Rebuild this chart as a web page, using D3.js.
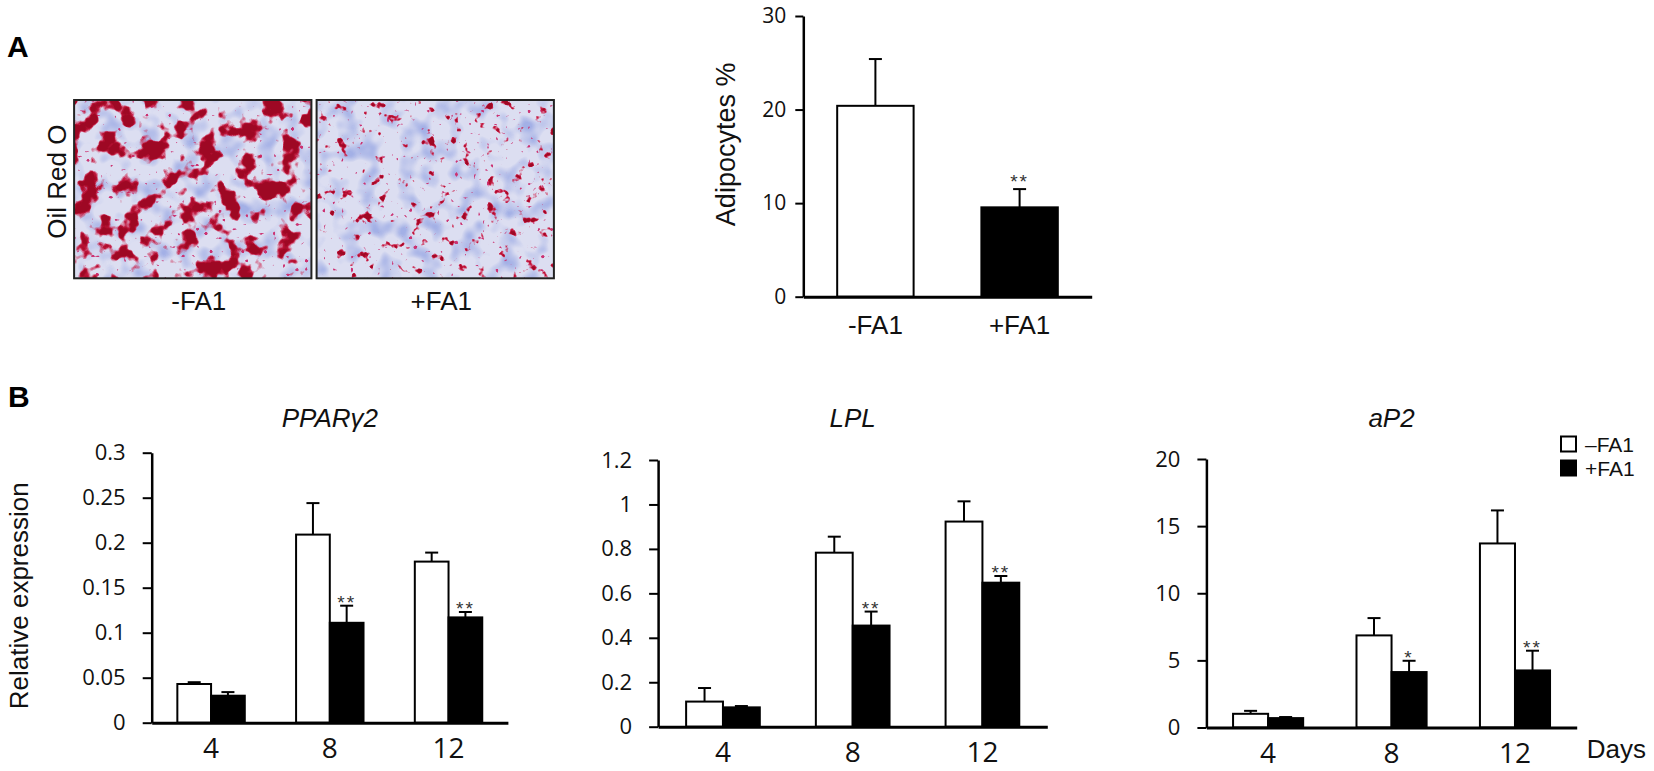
<!DOCTYPE html>
<html><head><meta charset="utf-8">
<script src="https://cdn.jsdelivr.net/npm/d3@7"></script>
<style>
body{margin:0;background:#fff;}
svg{display:block;}
</style></head><body>
<svg id="fig" width="1654" height="771"></svg>
<script>
// ---------------- DATA ----------------
const photoLabels = ["-FA1", "+FA1"];
const stainLabel = "Oil Red O";

const adipoCategories = ["-FA1", "+FA1"];
const adipoMean = [20.4, 9.55];
const adipoErr = [5.0, 1.95];
const adipoSig = ["", "**"];
const adipoTicks = [0, 10, 20, 30];
const adipoYLabel = "Adipocytes %";

const days = ["4", "8", "12"];
const genes = ["PPAR\u03b32", "LPL", "aP2"];
const seriesNames = ["\u2013FA1", "+FA1"];

const pparMinus = [0.043, 0.209, 0.179];
const pparMinusErr = [0.002, 0.035, 0.010];
const pparPlus = [0.030, 0.111, 0.117];
const pparPlusErr = [0.004, 0.019, 0.006];
const pparSig = ["", "**", "**"];
const pparTicks = [0, 0.05, 0.1, 0.15, 0.2, 0.25, 0.3];

const lplMinus = [0.113, 0.783, 0.923];
const lplMinusErr = [0.061, 0.072, 0.091];
const lplPlus = [0.087, 0.455, 0.648];
const lplPlusErr = [0.006, 0.063, 0.030];
const lplSig = ["", "**", "**"];
const lplTicks = [0, 0.2, 0.4, 0.6, 0.8, 1, 1.2];

const ap2Minus = [1.02, 6.86, 13.71];
const ap2MinusErr = [0.22, 1.29, 2.46];
const ap2Plus = [0.70, 4.13, 4.25];
const ap2PlusErr = [0.08, 0.84, 1.47];
const ap2Sig = ["", "*", "**"];
const ap2Ticks = [0, 5, 10, 15, 20];

const bYLabel = "Relative expression";
const daysLabel = "Days";

// ---------------- DRAWING ----------------
const svg = d3.select("#fig");
const ARIAL = "'Liberation Sans', Arial, sans-serif";
const NUM = "'Open Sans', 'Noto Sans', sans-serif";
const INK = "#111";

// panel letters
svg.append("text").attr("x", 7).attr("y", 56.7).attr("font-family", ARIAL)
  .attr("font-weight", "bold").attr("font-size", 30).text("A");
svg.append("text").attr("x", 8).attr("y", 406.7).attr("font-family", ARIAL)
  .attr("font-weight", "bold").attr("font-size", 30).text("B");

// ---- photos (stain texture via SVG filters) ----
const defs = svg.append("defs");
function makeStain(id, p) {
  const f = defs.append("filter").attr("id", id)
    .attr("x", 0).attr("y", 0).attr("width", 1).attr("height", 1)
    .attr("color-interpolation-filters", "sRGB");
  f.append("feFlood").attr("flood-color", "#dcdef1").attr("result", "bg");
  f.append("feTurbulence").attr("type", "fractalNoise").attr("baseFrequency", p.cellFreq)
    .attr("numOctaves", 2).attr("seed", p.seed1).attr("result", "n1");
  f.append("feColorMatrix").attr("in", "n1").attr("type", "matrix")
    .attr("values", "0 0 0 0 0.64  0 0 0 0 0.69  0 0 0 0 0.90  0 0 3 0 -1.4").attr("result", "cells");
  f.append("feComposite").attr("in", "cells").attr("in2", "bg").attr("operator", "over").attr("result", "base");
  f.append("feTurbulence").attr("type", "fractalNoise").attr("baseFrequency", p.blobFreq)
    .attr("numOctaves", 3).attr("seed", p.seed2).attr("result", "n2");
  f.append("feColorMatrix").attr("in", "n2").attr("type", "matrix")
    .attr("values", `0 0 0 0 0.80  0 0 0 0 0.10  0 0 0 0 0.26  ${p.redK} 0 0 0 ${p.redB}`).attr("result", "red");
  f.append("feColorMatrix").attr("in", "n2").attr("type", "matrix")
    .attr("values", `0 0 0 0 0.62  0 0 0 0 0.03  0 0 0 0 0.14  ${p.darkK} 0 0 0 ${p.darkB}`).attr("result", "dark");
  f.append("feTurbulence").attr("type", "fractalNoise").attr("baseFrequency", 0.22)
    .attr("numOctaves", 1).attr("seed", p.seed3).attr("result", "n3");
  f.append("feColorMatrix").attr("in", "n3").attr("type", "matrix")
    .attr("values", `0 0 0 0 0.80  0 0 0 0 0.20  0 0 0 0 0.45  0 ${p.spK} 0 0 ${p.spB}`).attr("result", "speck");
  const m = f.append("feMerge");
  ["base", "speck", "red", "dark"].forEach(k => m.append("feMergeNode").attr("in", k));
}
makeStain("stainDense", {cellFreq: 0.05, seed1: 4, blobFreq: 0.05, seed2: 9, redK: 12, redB: -6.3, darkK: 14, darkB: -8.1, seed3: 3, spK: 16, spB: -11.2});
makeStain("stainSparse", {cellFreq: 0.05, seed1: 6, blobFreq: 0.08, seed2: 21, redK: 14, redB: -9.2, darkK: 16, darkB: -11.4, seed3: 8, spK: 16, spB: -11.0});

const photoX = d3.scaleBand().domain(photoLabels).range([74.1, 553.9]).paddingInner(0.0214);
const photoTop = 100, photoBottom = 278.3;
const photos = svg.append("g");
photos.selectAll("rect.img").data(photoLabels).join("rect").attr("class", "img")
  .attr("x", d => photoX(d)).attr("y", photoTop)
  .attr("width", photoX.bandwidth()).attr("height", photoBottom - photoTop)
  .attr("fill", "#fff")
  .attr("filter", (d, i) => i === 0 ? "url(#stainDense)" : "url(#stainSparse)");
photos.selectAll("rect.frame").data(photoLabels).join("rect").attr("class", "frame")
  .attr("x", d => photoX(d)).attr("y", photoTop)
  .attr("width", photoX.bandwidth()).attr("height", photoBottom - photoTop)
  .attr("fill", "none").attr("stroke", "#222").attr("stroke-width", 2);
photos.selectAll("text.lab").data(photoLabels).join("text").attr("class", "lab")
  .attr("x", d => photoX(d) + photoX.bandwidth() / 2 + 6).attr("y", 310)
  .attr("text-anchor", "middle").attr("font-family", ARIAL).attr("font-size", 26).attr("fill", INK)
  .text(d => d);
svg.append("text").attr("transform", "translate(66,181.7) rotate(-90)")
  .attr("text-anchor", "middle").attr("font-family", ARIAL).attr("font-size", 26).attr("fill", INK)
  .text(stainLabel);

// ---- helpers ----
function styleYAxis(g, fontSize) {
  g.attr("font-family", NUM).attr("font-size", fontSize);
  g.select(".domain").attr("stroke", "#000").attr("stroke-width", 2.5);
  g.selectAll(".tick line").attr("stroke", "#000").attr("stroke-width", 2);
  g.selectAll(".tick text").attr("fill", INK);
}
function styleXAxis(g, fontFamily, fontSize, base) {
  g.attr("font-family", fontFamily).attr("font-size", fontSize);
  g.select(".domain").attr("stroke", "#000").attr("stroke-width", 3);
  g.selectAll(".tick line").remove();
  g.selectAll(".tick text").attr("fill", INK).attr("y", base).attr("dy", null);
}
function errorBar(g, cx, yTop, yErr) {
  g.append("line").attr("x1", cx).attr("x2", cx).attr("y1", yTop).attr("y2", yErr)
    .attr("stroke", "#000").attr("stroke-width", 2);
  g.append("line").attr("x1", cx - 6.5).attr("x2", cx + 6.5).attr("y1", yErr).attr("y2", yErr)
    .attr("stroke", "#000").attr("stroke-width", 2);
}
function sigMark(g, cx, yErr, txt, dy) {
  if (!txt) return;
  g.append("text").attr("x", cx).attr("y", yErr + dy).attr("text-anchor", "middle")
    .attr("font-family", ARIAL).attr("font-size", 19).attr("letter-spacing", 2)
    .attr("fill", "#333").text(txt);
}

// ---- Panel A bar chart ----
(function () {
  const x = d3.scaleBand().domain(adipoCategories).range([803.3, 1091.7]);
  const y = d3.scaleLinear().domain([0, 30]).range([296.7, 16]);
  const bw = x.bandwidth() * 0.53;
  const g = svg.append("g");
  const rows = adipoCategories.map((c, i) => ({c, v: adipoMean[i], e: adipoErr[i], s: adipoSig[i], i}));
  rows.forEach(r => {
    const cx = x(r.c) + x.bandwidth() / 2;
    errorBar(g, cx, y(r.v), y(r.v + r.e));
  });
  g.selectAll("rect").data(rows).join("rect")
    .attr("x", r => x(r.c) + x.bandwidth() / 2 - bw / 2).attr("y", r => y(r.v))
    .attr("width", bw).attr("height", r => y(0) - y(r.v))
    .attr("fill", r => r.i === 0 ? "#fff" : "#000").attr("stroke", "#000").attr("stroke-width", 2);
  rows.forEach(r => sigMark(g, x(r.c) + x.bandwidth() / 2, y(r.v + r.e), r.s, -1));
  const ya = svg.append("g").attr("transform", `translate(${x.range()[0]},0)`)
    .call(d3.axisLeft(y).tickValues(adipoTicks).tickSize(8).tickPadding(9).tickSizeOuter(0).tickFormat(d3.format("d")));
  styleYAxis(ya, 21);
  const xa = svg.append("g").attr("transform", `translate(0,${y(0)})`)
    .call(d3.axisBottom(x).tickSize(0).tickSizeOuter(0));
  styleXAxis(xa, ARIAL, 26, 37.3);
  svg.append("text").attr("transform", `translate(734.7,${(y(0) + y(30)) / 2 - 12}) rotate(-90)`)
    .attr("text-anchor", "middle").attr("font-family", ARIAL).attr("font-size", 27).attr("fill", INK)
    .text(adipoYLabel);
})();

// ---- Panel B bar charts ----
const bPanels = [
  {gene: genes[0], minus: pparMinus, minusErr: pparMinusErr, plus: pparPlus, plusErr: pparPlusErr, sig: pparSig, ticks: pparTicks,
   x0: 151.7, x1: 507.9, y0: 722.7, y1: 452.7},
  {gene: genes[1], minus: lplMinus, minusErr: lplMinusErr, plus: lplPlus, plusErr: lplPlusErr, sig: lplSig, ticks: lplTicks,
   x0: 658.1, x1: 1047.3, y0: 726.7, y1: 460},
  {gene: genes[2], minus: ap2Minus, minusErr: ap2MinusErr, plus: ap2Plus, plusErr: ap2PlusErr, sig: ap2Sig, ticks: ap2Ticks,
   x0: 1206.4, x1: 1576.7, y0: 727.5, y1: 459}
];

bPanels.forEach(p => {
  const x = d3.scaleBand().domain(days).range([p.x0, p.x1]);
  const y = d3.scaleLinear().domain([0, d3.max(p.ticks)]).range([p.y0, p.y1]);
  const bw = x.bandwidth() * 0.284;
  const g = svg.append("g");
  const rows = [];
  days.forEach((d, i) => {
    rows.push({d, s: 0, v: p.minus[i], e: p.minusErr[i], sig: ""});
    rows.push({d, s: 1, v: p.plus[i], e: p.plusErr[i], sig: p.sig[i]});
  });
  const bx = r => x(r.d) + x.bandwidth() / 2 + (r.s === 0 ? -bw : 0);
  rows.forEach(r => errorBar(g, bx(r) + bw / 2, y(r.v), y(r.v + r.e)));
  g.selectAll("rect").data(rows).join("rect")
    .attr("x", bx).attr("y", r => y(r.v))
    .attr("width", bw).attr("height", r => y(0) - y(r.v))
    .attr("fill", r => r.s === 0 ? "#fff" : "#000").attr("stroke", "#000").attr("stroke-width", 2);
  rows.forEach(r => sigMark(g, bx(r) + bw / 2, y(r.v + r.e), r.sig, 3.4));

  const ya = svg.append("g").attr("transform", `translate(${p.x0},0)`)
    .call(d3.axisLeft(y).tickValues(p.ticks).tickSize(9).tickPadding(17).tickSizeOuter(0).tickFormat(d3.format("~g")));
  styleYAxis(ya, 22);
  const xa = svg.append("g").attr("transform", `translate(0,${p.y0})`)
    .call(d3.axisBottom(x).tickSize(0).tickSizeOuter(0));
  styleXAxis(xa, NUM, 28, 35);

  svg.append("text").attr("x", (p.x0 + p.x1) / 2).attr("y", 427)
    .attr("text-anchor", "middle").attr("font-family", ARIAL).attr("font-style", "italic")
    .attr("font-size", 26).attr("fill", INK).text(p.gene);
});

// B y label
svg.append("text").attr("transform", "translate(28,595.8) rotate(-90)")
  .attr("text-anchor", "middle").attr("font-family", ARIAL).attr("font-size", 26).attr("fill", INK)
  .text(bYLabel);

// Days label
svg.append("text").attr("x", 1586.7).attr("y", 758.3)
  .attr("font-family", ARIAL).attr("font-size", 26).attr("fill", INK).text(daysLabel);

// legend
const legStep = 24;
const leg = svg.append("g").attr("transform", "translate(1560,435.5)");
leg.selectAll("rect").data(seriesNames).join("rect")
  .attr("x", 1).attr("y", (d, i) => i * legStep + 1).attr("width", 15).attr("height", 15)
  .attr("fill", (d, i) => i === 0 ? "#fff" : "#000").attr("stroke", "#000").attr("stroke-width", 2);
leg.selectAll("text").data(seriesNames).join("text")
  .attr("x", 25).attr("y", (d, i) => i * legStep + 16.3)
  .attr("font-family", ARIAL).attr("font-size", 21).attr("fill", INK).text(d => d);
</script>
</body></html>
